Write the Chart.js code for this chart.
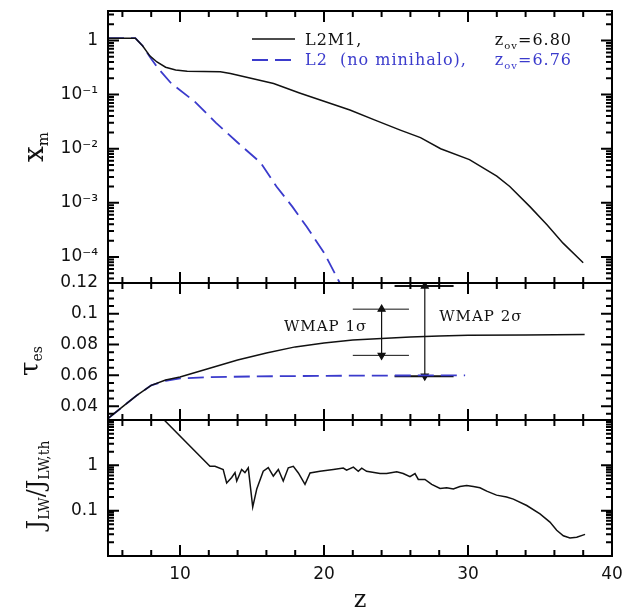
<!DOCTYPE html>
<html>
<head>
<meta charset="utf-8">
<script src="https://cdn.jsdelivr.net/npm/chart.js@4.4.1/dist/chart.umd.min.js"></script>
<style>
  html, body { margin: 0; padding: 0; background: #fff; }
  #wrap { width: 630px; height: 613px; }
</style>
</head>
<body>
<div id="wrap"><canvas id="reionChart" width="630" height="613"></canvas></div>
<script>
// top panel: x_m vs z
const zXmL2M1 = [5, 6.9, 7.4, 7.9, 8.4, 9.0, 9.7, 10.5, 12.8, 13.5, 15.3, 16.5, 18.3, 20, 21.8, 23.5, 25.3, 26.7, 28.1, 30.1, 32.0, 32.9, 34.3, 35.5, 36.6, 38.0];
const xmL2M1 = [1.1, 1.1, 0.8, 0.52, 0.40, 0.32, 0.285, 0.27, 0.265, 0.245, 0.19, 0.16, 0.107, 0.075, 0.052, 0.034, 0.022, 0.016, 0.010, 0.0063, 0.0031, 0.0020, 0.00085, 0.00039, 0.00018, 0.000078];
const zXmL2 = [5, 6.9, 7.4, 7.9, 8.5, 9.4, 11, 12.5, 14, 15.6, 16.7, 17.8, 18.8, 20, 21.1];
const xmL2 = [1.1, 1.1, 0.8, 0.5, 0.3, 0.16, 0.075, 0.03, 0.013, 0.0055, 0.002, 0.00085, 0.00036, 0.00012, 0.000033];

// middle panel: tau_es vs z
const zTauL2M1 = [5, 6, 7, 8, 9, 10, 12, 14, 16, 18, 20, 22, 24, 26, 28, 30, 34, 38.1];
const tauL2M1 = [0.032, 0.0395, 0.047, 0.0535, 0.057, 0.059, 0.0645, 0.070, 0.0745, 0.0785, 0.081, 0.083, 0.084, 0.085, 0.0855, 0.086, 0.0862, 0.0865];
const zTauL2 = [5, 6, 7, 8, 9, 10, 12, 15, 20, 25, 29.8];
const tauL2 = [0.032, 0.0395, 0.047, 0.0535, 0.0565, 0.058, 0.0588, 0.0593, 0.0597, 0.0599, 0.06];

// WMAP error bars
const wmap1Z = [22.0, 25.9];
const wmap1Tau = [0.073, 0.103];
const wmap1ArrowZ = 24.0;
const wmap2Z = [24.9, 29.0];
const wmap2Tau = [0.0595, 0.118];
const wmap2ArrowZ = 27.0;

// bottom panel: J_LW / J_LW,th vs z
const zJ = [8.9, 12.08, 12.43, 13.0, 13.24, 13.59, 13.82, 13.94, 14.28, 14.51, 14.74, 15.05, 15.33, 15.78, 16.13, 16.48, 16.83, 17.17, 17.52, 17.87, 18.22, 18.68, 19.03, 19.72, 20.65, 21.34, 21.57, 22.04, 22.38, 22.62, 22.96, 23.89, 24.35, 25.05, 25.5, 25.97, 26.32, 26.55, 27.01, 27.48, 28.06, 28.52, 28.98, 29.44, 29.91, 30.37, 30.83, 31.3, 31.98, 32.68, 33.15, 34.08, 35.0, 35.69, 36.16, 36.62, 37.08, 37.55, 38.13];
const jRatio = [10, 0.95, 0.95, 0.81, 0.41, 0.54, 0.69, 0.45, 0.81, 0.69, 0.88, 0.12, 0.30, 0.74, 0.89, 0.58, 0.81, 0.45, 0.88, 0.95, 0.68, 0.38, 0.68, 0.74, 0.81, 0.87, 0.78, 0.91, 0.74, 0.87, 0.74, 0.66, 0.66, 0.72, 0.66, 0.56, 0.66, 0.49, 0.49, 0.38, 0.31, 0.32, 0.30, 0.34, 0.36, 0.34, 0.32, 0.27, 0.22, 0.20, 0.18, 0.13, 0.085, 0.056, 0.037, 0.028, 0.025, 0.026, 0.030];

const BLUE = '#3b3bcc';
const INK = '#111111';
const TICK_FONT = { family: 'DejaVu Sans', size: 17 };

const pts = (xs, ys) => xs.map((x, i) => ({ x: x, y: ys[i] }));
const sup = { '-': '\u207b', '1': '\u00b9', '2': '\u00b2', '3': '\u00b3', '4': '\u2074', '5': '\u2075' };
const isDecade = v => { const e = Math.log10(v); return Math.abs(e - Math.round(e)) < 1e-6; };
const noPad = s => { s.paddingLeft = 0; s.paddingRight = 0; s.paddingTop = 0; s.paddingBottom = 0; };

// draw text made of [text, font, dy] pieces
function pieces(ctx, parts, x, y, align) {
    let total = 0;
    for (const p of parts) { ctx.font = p[1]; total += ctx.measureText(p[0]).width; }
    let cx = align === 'right' ? x - total : (align === 'center' ? x - total / 2 : x);
    ctx.textAlign = 'left';
    for (const p of parts) {
        ctx.font = p[1];
        ctx.fillText(p[0], cx, y + (p[2] || 0));
        cx += ctx.measureText(p[0]).width;
    }
}

// frame + inward ticks on every panel
const frameTicks = {
    id: 'frameTicks',
    afterDraw(chart) {
        const { ctx, scales } = chart;
        const xs = scales.x;
        ctx.save();
        ctx.setLineDash([]);
        ctx.strokeStyle = '#000';
        ctx.lineWidth = 2;
        ctx.beginPath();
        for (const id of ['yX', 'yTau', 'yJ']) {
            const ys = scales[id];
            const L = xs.left, R = xs.right, T = ys.top, B = ys.bottom;
            for (let v = 6; v < 40; v += 2) {
                const px = xs.getPixelForValue(v);
                const len = v % 10 === 0 ? 11 : 6;
                ctx.moveTo(px, T); ctx.lineTo(px, T + len);
                ctx.moveTo(px, B); ctx.lineTo(px, B - len);
            }
            const yt = [];
            if (ys.type === 'logarithmic') {
                for (let d = Math.floor(Math.log10(ys.min)); d <= Math.ceil(Math.log10(ys.max)); d++) {
                    for (let k = 1; k <= 9; k++) {
                        const v = k * Math.pow(10, d);
                        if (v > ys.min && v < ys.max) yt.push([v, k === 1]);
                    }
                }
            } else {
                for (let i = 7; i <= 24; i++) {
                    const v = i * 0.005;
                    if (v > ys.min && v < ys.max - 1e-9) yt.push([v, i % 4 === 0]);
                }
            }
            for (const [v, major] of yt) {
                const py = ys.getPixelForValue(v);
                const len = major ? 11 : 6;
                ctx.moveTo(L, py); ctx.lineTo(L + len, py);
                ctx.moveTo(R, py); ctx.lineTo(R - len, py);
            }
            ctx.rect(L, T, R - L, B - T);
        }
        ctx.stroke();
        ctx.restore();
    }
};

// axis titles, legend and WMAP labels
const labels = {
    id: 'labels',
    afterDraw(chart) {
        const { ctx, scales } = chart;
        const xs = scales.x, yTau = scales.yTau;
        ctx.save();
        ctx.fillStyle = INK;
        ctx.textBaseline = 'alphabetic';

        // rotated y titles
        const rot = (cx, cy, parts) => {
            ctx.save();
            ctx.translate(cx, cy);
            ctx.rotate(-Math.PI / 2);
            pieces(ctx, parts, 0, 0, 'center');
            ctx.restore();
        };
        rot(43, 147, [['x', '28px DejaVu Serif', 0], ['m', '15px DejaVu Serif', 5]]);
        rot(38, 361, [['\u03c4', '26px DejaVu Serif', 0], ['es', '14px DejaVu Serif', 4]]);
        rot(44, 485, [['J', '24px DejaVu Serif', 0], ['LW', '14px DejaVu Serif', 5], ['/', '24px DejaVu Serif', 0],
                      ['J', '24px DejaVu Serif', 0], ['LW,th', '14px DejaVu Serif', 5]]);

        // x title
        ctx.font = '24px DejaVu Serif';
        ctx.textAlign = 'center';
        ctx.fillText('z', (xs.left + xs.right) / 2, 607);

        // legend
        ctx.strokeStyle = INK;
        ctx.lineWidth = 1.5;
        ctx.beginPath(); ctx.moveTo(252, 39); ctx.lineTo(295, 39); ctx.stroke();
        ctx.strokeStyle = BLUE;
        ctx.lineWidth = 1.8;
        ctx.setLineDash([16, 7]);
        ctx.beginPath(); ctx.moveTo(252, 60); ctx.lineTo(295, 60); ctx.stroke();
        ctx.setLineDash([]);
        ctx.letterSpacing = '1px';
        ctx.fillStyle = INK;
        pieces(ctx, [['L2M1,', '16px DejaVu Serif']], 305, 45, 'left');
        pieces(ctx, [['z', '16px DejaVu Serif'], ['ov', '10px DejaVu Serif', 4], ['=6.80', '16px DejaVu Serif']], 572, 45, 'right');
        ctx.fillStyle = BLUE;
        pieces(ctx, [['L2  (no minihalo),', '16px DejaVu Serif']], 305, 65, 'left');
        pieces(ctx, [['z', '16px DejaVu Serif'], ['ov', '10px DejaVu Serif', 4], ['=6.76', '16px DejaVu Serif']], 572, 65, 'right');

        // WMAP labels
        ctx.fillStyle = INK;
        ctx.textBaseline = 'middle';
        pieces(ctx, [['WMAP 1\u03c3', '15px DejaVu Serif']], xs.getPixelForValue(23.0), yTau.getPixelForValue(0.0915), 'right');
        pieces(ctx, [['WMAP 2\u03c3', '15px DejaVu Serif']], xs.getPixelForValue(28.0), yTau.getPixelForValue(0.098), 'left');
        ctx.restore();
    }
};

const bar = (zs, tau) => pts(zs, [tau, tau]);
const errDataset = (zs, tau, w) => ({ data: bar(zs, tau), yAxisID: 'yTau', borderColor: INK, borderWidth: w });
const arrowDataset = (z, taus) => ({
    data: pts([z, z], taus), yAxisID: 'yTau', borderColor: INK, borderWidth: 1.2,
    pointRadius: 4, pointStyle: 'triangle', pointRotation: [180, 0],
    pointBackgroundColor: INK, pointBorderColor: INK
});

const ctx = document.getElementById('reionChart');

new Chart(ctx, {
    type: 'line',
    data: {
        datasets: [
            { label: 'L2M1', data: pts(zXmL2M1, xmL2M1), yAxisID: 'yX', borderColor: INK, borderWidth: 1.5 },
            { label: 'L2 (no minihalo)', data: pts(zXmL2, xmL2), yAxisID: 'yX', borderColor: BLUE, borderWidth: 1.8, borderDash: [16, 7] },
            { label: 'L2M1 tau', data: pts(zTauL2M1, tauL2M1), yAxisID: 'yTau', borderColor: INK, borderWidth: 1.5 },
            { label: 'L2 tau', data: pts(zTauL2, tauL2), yAxisID: 'yTau', borderColor: BLUE, borderWidth: 1.8, borderDash: [16, 7] },
            errDataset(wmap1Z, wmap1Tau[0], 1),
            errDataset(wmap1Z, wmap1Tau[1], 1),
            errDataset(wmap2Z, wmap2Tau[0], 2),
            errDataset(wmap2Z, wmap2Tau[1], 2),
            arrowDataset(wmap1ArrowZ, wmap1Tau),
            arrowDataset(wmap2ArrowZ, wmap2Tau),
            { label: 'J', data: pts(zJ, jRatio), yAxisID: 'yJ', borderColor: INK, borderWidth: 1.5 }
        ]
    },
    options: {
        responsive: false,
        animation: false,
        events: [],
        layout: { padding: { top: 11, right: 18, left: 0, bottom: 0 } },
        elements: { point: { radius: 0 }, line: { tension: 0 } },
        plugins: { legend: { display: false }, tooltip: { enabled: false } },
        scales: {
            x: {
                type: 'linear', min: 5, max: 40,
                grid: { display: false, drawTicks: false }, border: { display: false },
                ticks: { stepSize: 10, includeBounds: false, font: TICK_FONT, color: INK, padding: 8, maxRotation: 0 },
                afterFit: s => { s.height = 57; noPad(s); }
            },
            yJ: {
                type: 'logarithmic', position: 'left', stack: 'panels', stackWeight: 136, weight: 1,
                min: 0.01, max: 10,
                grid: { display: false, drawTicks: false }, border: { display: false },
                ticks: {
                    font: TICK_FONT, color: INK, padding: 10, autoSkip: false,
                    callback: v => {
                        if (!isDecade(v)) return '';
                        const e = Math.round(Math.log10(v));
                        return e === 0 ? '1' : (e === -1 ? '0.1' : '');
                    }
                },
                afterFit: s => { s.width = 108; noPad(s); }
            },
            yTau: {
                type: 'linear', position: 'left', stack: 'panels', stackWeight: 137, weight: 2,
                min: 0.031, max: 0.12,
                grid: { display: false, drawTicks: false }, border: { display: false },
                ticks: {
                    stepSize: 0.02, includeBounds: false, font: TICK_FONT, color: INK, padding: 10, autoSkip: false,
                    callback: v => (v < 0.035 ? '' : String(+v.toFixed(2)))
                },
                afterFit: s => { s.width = 108; noPad(s); }
            },
            yX: {
                type: 'logarithmic', position: 'left', stack: 'panels', stackWeight: 272, weight: 3,
                min: 3.3e-5, max: 3.5,
                grid: { display: false, drawTicks: false }, border: { display: false },
                ticks: {
                    font: TICK_FONT, color: INK, padding: 10, autoSkip: false,
                    callback: v => {
                        if (!isDecade(v)) return '';
                        const e = Math.round(Math.log10(v));
                        return e === 0 ? '1' : '10' + String(e).split('').map(c => sup[c]).join('');
                    }
                },
                afterFit: s => { s.width = 108; noPad(s); }
            }
        }
    },
    plugins: [frameTicks, labels]
});
</script>
</body>
</html>
